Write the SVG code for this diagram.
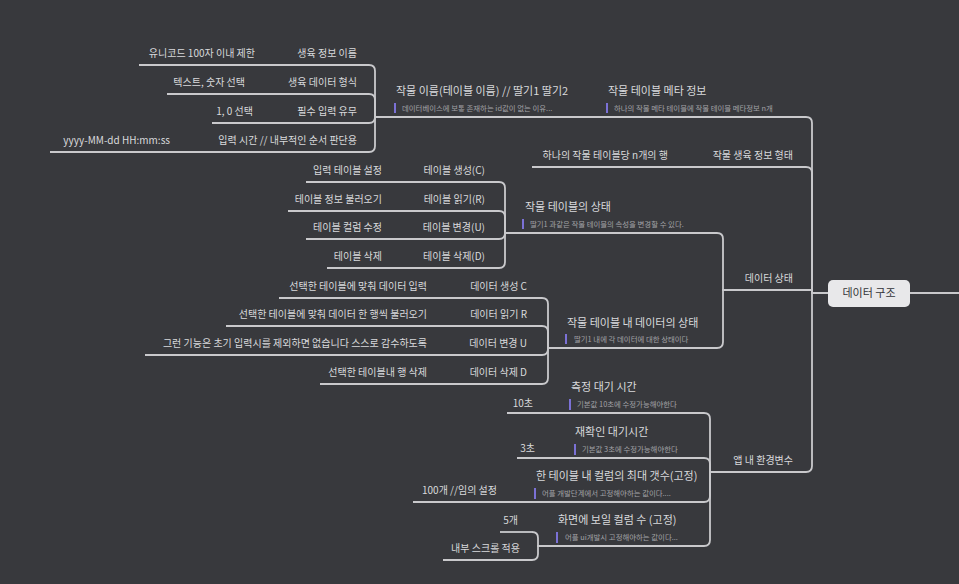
<svg xmlns="http://www.w3.org/2000/svg" width="959" height="584" viewBox="0 0 959 584">
<style>
text{font-family:"Noto Sans CJK KR","Noto Sans",sans-serif;fill:#d9d9dc}
.t{font-size:10px}
.e{text-anchor:end}
.h{font-size:11px}
.n{font-size:7.4px;fill:#a2a2a6}
.u{stroke:#c9c9cc;stroke-width:1.8;fill:none}
.c{stroke:#c9c9cc;stroke-width:1.8;fill:none}
.bar{fill:#7b71d6}
.root{fill:#e8e8ea}
.rt{font-size:11px;fill:#333438;text-anchor:middle}
</style>
<rect width="959" height="584" fill="#38393d"/>
<g id="connectors">
<path class="c" d="M910,293 H959"/>
<path class="c" d="M828,293 H812 V123 Q812,117 806,117"/>
<path class="c" d="M828,293 H812 V173 Q812,167 806,167"/>
<path class="c" d="M828,293 H812 V290 H806"/>
<path class="c" d="M828,293 H812 V466 Q812,472 806,472"/>
<path class="c" d="M385,117 H375 V71 Q375,65 369,65"/>
<path class="c" d="M385,117 H375 V100 Q375,94 369,94"/>
<path class="c" d="M385,117 H375 V117 Q375,123 369,123"/>
<path class="c" d="M385,117 H375 V146 Q375,152 369,152"/>
<path class="c" d="M734,290 H723 V239 Q723,233 717,233"/>
<path class="c" d="M734,290 H723 V342 Q723,348 717,348"/>
<path class="c" d="M517,233 H505 V188 Q505,182 499,182"/>
<path class="c" d="M517,233 H505 V217 Q505,211 499,211"/>
<path class="c" d="M517,233 H505 V233 Q505,239 499,239"/>
<path class="c" d="M517,233 H505 V262 Q505,268 499,268"/>
<path class="c" d="M557,348 H548 V304 Q548,298 542,298"/>
<path class="c" d="M557,348 H548 V332 Q548,326 542,326"/>
<path class="c" d="M557,348 H548 V349 Q548,355 542,355"/>
<path class="c" d="M557,348 H548 V378 Q548,384 542,384"/>
<path class="c" d="M719,472 H710 V419 Q710,413 704,413"/>
<path class="c" d="M719,472 H710 V464 Q710,458 704,458"/>
<path class="c" d="M719,472 H710 V496 Q710,502 704,502"/>
<path class="c" d="M719,472 H710 V540 Q710,546 704,546"/>
<path class="c" d="M548,546 H538 V538 Q538,532 532,532"/>
<path class="c" d="M548,546 H538 V554 Q538,560 532,560"/>
</g>
<g id="root"><rect class="root" x="828" y="280" width="82" height="27" rx="5"/><text class="rt" x="869" y="297">데이터 구조</text></g>

<g id="meta"><path class="u" d="M600,117 H806"/><text class="h" x="608" y="95">작물 테이블 메타 정보</text><rect class="bar" x="606" y="103" width="2" height="10"/><text class="n" x="614" y="111">하나의 작물 메타 테이블에 작물 테이블 메타정보 n개</text></g>
<g id="cropname"><path class="u" d="M385,117 H600"/><text class="h" x="396" y="95">작물 이름(테이블 이름) // 딸기1 딸기2</text><rect class="bar" x="394" y="103" width="2" height="10"/><text class="n" x="402" y="111">데이터베이스에 보통 존재하는 id값이 없는 이유...</text></g>
<g id="growname"><path class="u" d="M285,65 H369"/><text class="t e" x="357" y="57">생육 정보 이름</text></g>
<g id="growname-v"><path class="u" d="M139,65 H285"/><text class="t e" x="255" y="57">유니코드 100자 이내 제한</text></g>
<g id="growtype"><path class="u" d="M275,94 H369"/><text class="t e" x="357" y="86">생육 데이터 형식</text></g>
<g id="growtype-v"><path class="u" d="M167,94 H275"/><text class="t e" x="245" y="86">텍스트, 숫자 선택</text></g>
<g id="required"><path class="u" d="M285,123 H369"/><text class="t e" x="357" y="115">필수 입력 유무</text></g>
<g id="required-v"><path class="u" d="M212,123 H285"/><text class="t e" x="253" y="115">1, 0 선택</text></g>
<g id="inputtime"><path class="u" d="M200,152 H369"/><text class="t e" x="357" y="144">입력 시간 // 내부적인 순서 판단용</text></g>
<g id="inputtime-v"><path class="u" d="M50,152 H200"/><text class="t e" x="170" y="144">yyyy-MM-dd HH:mm:ss</text></g>

<g id="growform"><path class="u" d="M700,167 H806"/><text class="t e" x="793" y="159">작물 생육 정보 형태</text></g>
<g id="growform-v"><path class="u" d="M532,167 H700"/><text class="t e" x="668" y="159">하나의 작물 테이블당 n개의 행</text></g>

<g id="datastate"><path class="u" d="M734,290 H806"/><text class="t e" x="793" y="282">데이터 상태</text></g>
<g id="tablestate"><path class="u" d="M517,233 H717"/><text class="h" x="525" y="211">작물 테이블의 상태</text><rect class="bar" x="522" y="219" width="2" height="10"/><text class="n" x="530" y="227">딸기1 과같은 작물 테이블의 속성을 변경할 수 있다.</text></g>
<g id="tc"><path class="u" d="M414,182 H499"/><text class="t e" x="485" y="174">테이블 생성(C)</text></g>
<g id="tc-v"><path class="u" d="M306,182 H414"/><text class="t e" x="382" y="174">입력 테이블 설정</text></g>
<g id="tr"><path class="u" d="M414,211 H499"/><text class="t e" x="485" y="203">테이블 읽기(R)</text></g>
<g id="tr-v"><path class="u" d="M288,211 H414"/><text class="t e" x="382" y="203">테이블 정보 불러오기</text></g>
<g id="tu"><path class="u" d="M414,239 H499"/><text class="t e" x="485" y="231">테이블 변경(U)</text></g>
<g id="tu-v"><path class="u" d="M306,239 H414"/><text class="t e" x="382" y="231">테이블 컬럼 수정</text></g>
<g id="td"><path class="u" d="M414,268 H499"/><text class="t e" x="485" y="260">테이블 삭제(D)</text></g>
<g id="td-v"><path class="u" d="M327,268 H414"/><text class="t e" x="382" y="260">테이블 삭제</text></g>

<g id="rowstate"><path class="u" d="M557,348 H717"/><text class="h" x="567" y="327">작물 테이블 내 데이터의 상태</text><rect class="bar" x="565" y="334" width="2" height="10"/><text class="n" x="574" y="342">딸기1 내에 각 데이터에 대한 상태이다</text></g>
<g id="dc"><path class="u" d="M459,298 H542"/><text class="t e" x="527" y="290">데이터 생성 C</text></g>
<g id="dc-v"><path class="u" d="M279,298 H459"/><text class="t e" x="427" y="290">선택한 테이블에 맞춰 데이터 입력</text></g>
<g id="dr"><path class="u" d="M459,326 H542"/><text class="t e" x="527" y="318">데이터 읽기 R</text></g>
<g id="dr-v"><path class="u" d="M226,326 H459"/><text class="t e" x="427" y="318">선택한 테이블에 맞춰 데이터 한 행씩 불러오기</text></g>
<g id="du"><path class="u" d="M459,355 H542"/><text class="t e" x="527" y="347">데이터 변경 U</text></g>
<g id="du-v"><path class="u" d="M145,355 H459"/><text class="t e" x="427" y="347">그런 기능은 초기 입력시를 제외하면 없습니다 스스로 감수하도록</text></g>
<g id="dd"><path class="u" d="M459,384 H542"/><text class="t e" x="527" y="376">데이터 삭제 D</text></g>
<g id="dd-v"><path class="u" d="M320,384 H459"/><text class="t e" x="427" y="376">선택한 테이블내 행 삭제</text></g>

<g id="appenv"><path class="u" d="M719,472 H806"/><text class="t e" x="793" y="464">앱 내 환경변수</text></g>
<g id="measure"><path class="u" d="M563,413 H704"/><text class="h" x="571" y="391">측정 대기 시간</text><rect class="bar" x="569" y="399" width="2" height="11"/><text class="n" x="577" y="407">기본값 10초에 수정가능해야한다</text></g>
<g id="measure-v"><path class="u" d="M507,413 H563"/><text class="t e" x="533" y="407">10초</text></g>
<g id="recheck"><path class="u" d="M567,458 H704"/><text class="h" x="575" y="436">재확인 대기시간</text><rect class="bar" x="574" y="444" width="2" height="11"/><text class="n" x="582" y="452">기본값 3초에 수정가능해야한다</text></g>
<g id="recheck-v"><path class="u" d="M517,458 H567"/><text class="t e" x="535" y="452">3초</text></g>
<g id="maxcol"><path class="u" d="M528,502 H704"/><text class="h" x="536" y="480">한 테이블 내 컬럼의 최대 갯수(고정)</text><rect class="bar" x="534" y="488" width="2" height="11"/><text class="n" x="542" y="496">어플 개발단계에서 고정해야하는 값이다....</text></g>
<g id="maxcol-v"><path class="u" d="M413,502 H528"/><text class="t e" x="497" y="494">100개 //임의 설정</text></g>
<g id="viewcol"><path class="u" d="M548,546 H704"/><text class="h" x="558" y="524">화면에 보일 컬럼 수 (고정)</text><rect class="bar" x="556" y="532" width="2" height="11"/><text class="n" x="565" y="540">어플 ui개발시 고정해야하는 값이다...</text></g>
<g id="viewcol-a"><path class="u" d="M500,532 H532"/><text class="t e" x="518" y="524">5개</text></g>
<g id="viewcol-b"><path class="u" d="M443,560 H532"/><text class="t e" x="520" y="552">내부 스크롤 적용</text></g>
</svg>
